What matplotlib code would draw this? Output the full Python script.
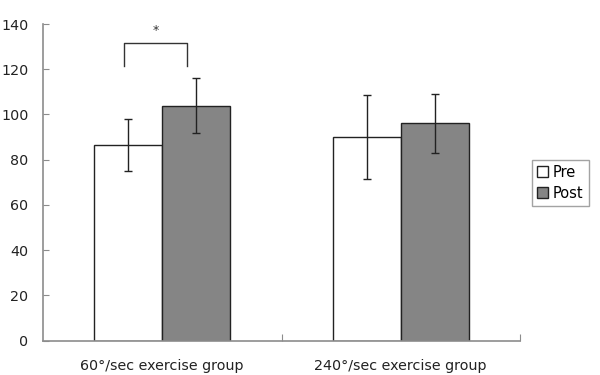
import matplotlib
matplotlib.use("Agg")
import matplotlib.pyplot as plt
import numpy as np

categories = ["60\u00b0/sec exercise group", "240\u00b0/sec exercise group"]
series = ["Pre", "Post"]
pre_vals = [86.4, 89.9]
pre_err = [11.5, 18.5]
post_vals = [103.9, 96.1]
post_err = [12.2, 13.0]
yticks = [0, 20, 40, 60, 80, 100, 120, 140]

plt.rcParams['font.family'] = ['DejaVu Sans']
fig = plt.figure(figsize=(6, 3.75), dpi=100)
W, H = 600, 375
ax = fig.add_axes([43 / W, (H - 340.7) / H, (520 - 43) / W, (340.7 - 24) / H])

x = np.arange(len(categories))
w = 0.285
axis_gray = "#8c8c8c"
ax.bar(x - w / 2, pre_vals, w, color="white", edgecolor="#222222", linewidth=1.0, label=series[0], zorder=2)
ax.bar(x + w / 2, post_vals, w, color="#858585", edgecolor="#222222", linewidth=1.0, label=series[1], zorder=2)
ax.errorbar(x - w / 2, pre_vals, yerr=pre_err, fmt="none", ecolor="#222222", elinewidth=1.0, capsize=3, capthick=1.0, zorder=3)
ax.errorbar(x + w / 2, post_vals, yerr=post_err, fmt="none", ecolor="#222222", elinewidth=1.0, capsize=3, capthick=1.0, zorder=3)

# significance bracket
bx0, bx1 = x[0] - w / 2 - 0.017, x[0] + w / 2 - 0.04
ax.plot([bx0, bx0, bx1, bx1], [121.6, 131.5, 131.5, 121.6], color="#333333", lw=1.0, clip_on=False)
ax.text((bx0 + bx1) / 2, 137, "*", ha="center", va="center", fontsize=9, color="#333333")

ax.set_xlim(-0.5, 1.5)
ax.set_ylim(0, 140)
ax.set_yticks(yticks)
ax.set_xticks([0.5, 1.5])
ax.set_xticklabels([])
ax.set_xticks(x, minor=True)
ax.set_xticklabels(categories, minor=True, fontsize=10.3)
ax.tick_params(axis="x", which="minor", length=0, pad=13)
ax.tick_params(axis="x", which="major", direction="in", length=5, color=axis_gray)
ax.tick_params(axis="y", direction="in", length=4, color=axis_gray, pad=10.5, labelsize=10.3)
for lab in ax.get_yticklabels() + ax.get_xticklabels(minor=True):
    lab.set_color("#222222")

for s in ["top", "right"]:
    ax.spines[s].set_visible(False)
for s in ["left", "bottom"]:
    ax.spines[s].set_color(axis_gray)
    ax.spines[s].set_linewidth(1.2)

leg = ax.legend(loc="upper left", bbox_to_anchor=(531.7 / W, (H - 159.7) / H), bbox_transform=fig.transFigure,
                frameon=True, fancybox=False, fontsize=10.5, handlelength=0.8, handleheight=0.8,
                handletextpad=0.3, borderpad=0.35, labelspacing=0.4, borderaxespad=0)
leg.get_frame().set_edgecolor(axis_gray)
leg.get_frame().set_linewidth(1.0)

fig.savefig("out.png", dpi=100)
